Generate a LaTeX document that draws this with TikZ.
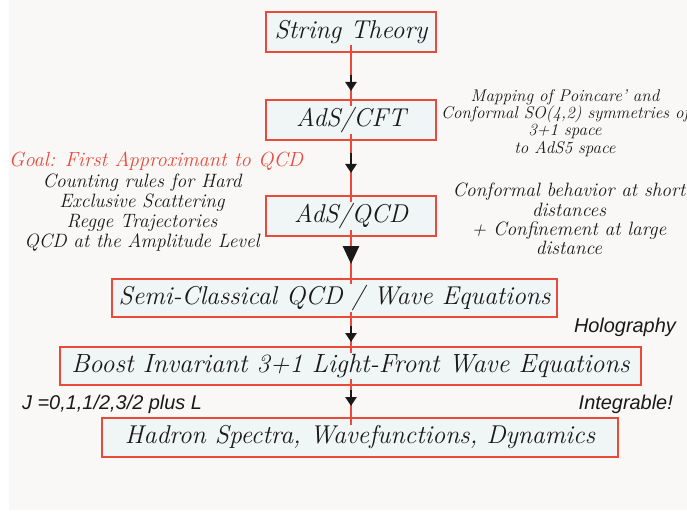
\documentclass[tikz,border=0pt]{standalone}
\usepackage{fontspec}
\newfontfamily\armfont{Liberation Sans}
\usetikzlibrary{arrows.meta, backgrounds}

\definecolor{boxred}{RGB}{234,74,58}
\definecolor{boxfill}{RGB}{240,245,246}
\definecolor{pagebg}{RGB}{249,248,247}
\definecolor{inkblack}{RGB}{25,25,25}

\setlength{\fboxsep}{1pt}
\newcommand{\boxtext}[1]{\colorbox{boxfill}{#1}}

\tikzset{
  stage/.style={draw=boxred, line width=1.7pt, inner sep=0pt, text=inkblack,
    font=\fontsize{22}{24}\selectfont\itshape},
  note/.style={align=center, text=inkblack, font=\fontsize{16.5}{17}\selectfont\itshape},
  tag/.style={text=inkblack, font=\fontsize{17}{18}\selectfont\armfont\itshape},
  spine/.style={boxred, line width=2.2pt},
  darr/.style={inkblack, line width=2.2pt, -{Triangle[width=0.33cm, length=0.27cm]}},
}

\begin{document}
\begin{tikzpicture}[x=0.03cm, y=-0.03cm]

  \useasboundingbox (0,0) rectangle (687,512);

  % The chain of stages
  \node[stage, minimum width=5.1cm, minimum height=1.2cm] (st) at (351,32) {\boxtext{String Theory}};
  \node[stage, minimum width=5.1cm, minimum height=1.2cm] (cft) at (351,120) {\boxtext{AdS/CFT}};
  \node[stage, minimum width=5.1cm, minimum height=1.2cm] (qcd) at (351,216) {\boxtext{AdS/QCD}};
  \node[stage, minimum width=13.35cm, minimum height=1.14cm] (sc) at (334.5,298) {\boxtext{Semi-Classical QCD / Wave Equations}};
  \node[stage, minimum width=17.43cm, minimum height=1.14cm, font=\fontsize{22.5}{24}\selectfont\itshape] (lf) at (350.5,366) {\boxtext{Boost Invariant 3+1 Light-Front Wave Equations}};
  \node[stage, minimum width=15.48cm, minimum height=1.17cm] (had) at (360,437.5) {\boxtext{Hadron Spectra, Wavefunctions, Dynamics}};

  % Page, box fills and the red spine behind the texts
  \begin{scope}[on background layer]
    \fill[pagebg] (8.7,0) rectangle (687,510);
    \foreach \b in {st,cft,qcd,sc,lf,had}
      \fill[boxfill] (\b.south west) rectangle (\b.north east);
    \draw[spine] (st.center) -- (st.center |- had.center);
  \end{scope}

  % Black arrows on the spine
  \draw[darr, shorten <=0.66cm, shorten >=0.24cm] (st) -- (cft);
  \draw[darr, shorten <=0.36cm, shorten >=0.66cm] (cft) -- (qcd);
  \draw[darr, -{Triangle[width=0.48cm, length=0.54cm]}, shorten <=0.33cm, shorten >=0.42cm] (qcd) -- (qcd.south |- sc.north);
  \draw[darr, shorten <=0.24cm, shorten >=0.12cm] (sc.south -| st.south) -- (st.south |- lf.north);
  \draw[darr, shorten <=0.12cm, shorten >=0.33cm] (lf.south -| st.south) -- (st.south |- had.north);

  % Left notes
  \node[note, text=boxred, font=\fontsize{17.5}{18}\selectfont\itshape] (goal) at (156,161) {Goal: First Approximant to QCD};
  \node[note, font=\fontsize{16.5}{17}\selectfont\itshape] (uses) at (142,212.5)
    {Counting rules for Hard\\Exclusive Scattering\\Regge Trajectories\\QCD at the Amplitude Level};

  % Right notes
  \node[note, font=\fontsize{14.5}{14.8}\selectfont\itshape] (mapping) at (565,123)
    {Mapping of Poincare' and\\Conformal SO(4,2) symmetries of\\3+1 space\\to AdS5 space};
  \node[note, font=\fontsize{16.5}{16.5}\selectfont\itshape] (conformal) at (569,219)
    {Conformal behavior at short\\distances\\+ Confinement at large\\distance};

  % Sans labels
  \node[tag, anchor=east] (holo) at (680,327) {Holography};
  \node[tag, anchor=east] (integ) at (677,404) {Integrable!};
  \node[tag, anchor=west] (spins) at (18,404) {J =0,1,1/2,3/2 plus L};

\end{tikzpicture}
\end{document}
